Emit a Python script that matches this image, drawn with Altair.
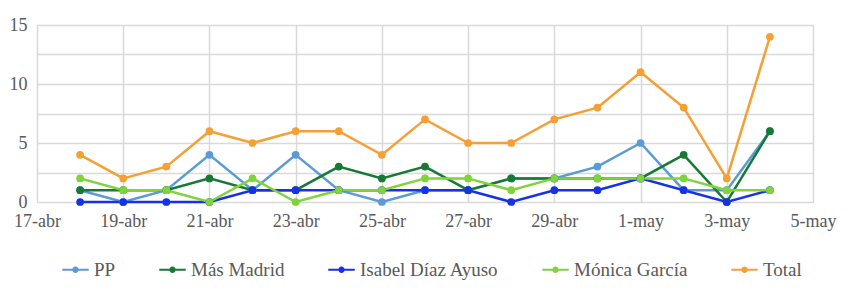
import altair as alt
import pandas as pd

fechas = ["2021-04-18", "2021-04-19", "2021-04-20", "2021-04-21", "2021-04-22", "2021-04-23",
          "2021-04-24", "2021-04-25", "2021-04-26", "2021-04-27", "2021-04-28", "2021-04-29",
          "2021-04-30", "2021-05-01", "2021-05-02", "2021-05-03", "2021-05-04"]
pp = [1, 0, 1, 4, 1, 4, 1, 0, 1, 1, 2, 2, 3, 5, 1, 1, 6]
mas_madrid = [1, 1, 1, 2, 1, 1, 3, 2, 3, 1, 2, 2, 2, 2, 4, 0, 6]
ayuso = [0, 0, 0, 0, 1, 1, 1, 1, 1, 1, 0, 1, 1, 2, 1, 0, 1]
monica = [2, 1, 1, 0, 2, 0, 1, 1, 2, 2, 1, 2, 2, 2, 2, 1, 1]
total = [4, 2, 3, 6, 5, 6, 6, 4, 7, 5, 5, 7, 8, 11, 8, 2, 14]

series = ["PP", "Más Madrid", "Isabel Díaz Ayuso", "Mónica García", "Total"]
colores = ["#5B9BD5", "#167A35", "#1631E6", "#7ED43A", "#F5A035"]
tick_fechas = ["2021-04-17", "2021-04-19", "2021-04-21", "2021-04-23", "2021-04-25",
               "2021-04-27", "2021-04-29", "2021-05-01", "2021-05-03", "2021-05-05"]
y_ticks = [0, 2.5, 5, 7.5, 10, 12.5, 15]

rows = []
for name, vals in zip(series, [pp, mas_madrid, ayuso, monica, total]):
    for f, v in zip(fechas, vals):
        rows.append({"fecha": f, "serie": name, "valor": v})
df = pd.DataFrame(rows)

tick_ms = [int(pd.Timestamp(t, tz="UTC").timestamp() * 1000) for t in tick_fechas]

FONT = "Liberation Serif"
GRAY = "#595959"
GRID = "#D9D9D9"

x_enc = alt.X(
    "fecha:T",
    scale=alt.Scale(type="utc", domain=[tick_ms[0], tick_ms[-1]]),
    axis=alt.Axis(
        values=tick_ms,
        labelExpr="utcdate(datum.value) + '-' + (utcmonth(datum.value) == 3 ? 'abr' : 'may')",
        title=None, grid=True, gridColor=GRID, gridWidth=1.5,
        domain=False, ticks=False, labelPadding=10,
        labelFont=FONT, labelFontSize=18, labelColor=GRAY,
        labelOverlap=False, labelBound=False, labelFlush=False,
    ),
)
y_enc = alt.Y(
    "valor:Q",
    scale=alt.Scale(domain=[0, 15], nice=False),
    axis=alt.Axis(
        values=y_ticks,
        labelExpr="datum.value % 5 == 0 ? datum.label : ''",
        title=None, grid=True, gridColor=GRID, gridWidth=1.5,
        domain=False, ticks=False, labelPadding=10,
        labelFont=FONT, labelFontSize=18, labelColor=GRAY,
    ),
)
color_scale = alt.Scale(domain=series, range=colores)

legend_path = ("M -1 -0.07 L 1 -0.07 L 1 0.07 L -1 0.07 Z "
               "M 0.24 0 A 0.24 0.24 0 1 1 -0.24 0 A 0.24 0.24 0 1 1 0.24 0 Z")

legend = alt.Legend(
    title=None, orient="none", direction="horizontal",
    legendX=25, legendY=231,
    symbolType=legend_path, symbolSize=700, symbolStrokeWidth=0,
    labelFont=FONT, labelFontSize=19, labelColor=GRAY,
    columnPadding=43, labelOffset=5, labelLimit=300,
)

lines = alt.Chart(df).mark_line(strokeWidth=2.5).encode(
    x=x_enc, y=y_enc,
    color=alt.Color("serie:N", scale=color_scale, sort=series, legend=legend),
    order=alt.Order("fecha:T"),
)
points = alt.Chart(df).mark_circle(size=60, opacity=1).encode(
    x=x_enc, y=y_enc,
    color=alt.Color("serie:N", scale=color_scale, sort=series, legend=legend),
)

chart = (lines + points).properties(
    width=776, height=177,
    autosize=alt.AutoSizeParams(type="none"),
    padding={"left": 29, "top": 17, "right": 32, "bottom": 83},
).configure_view(stroke=None).configure(background="white", font=FONT)

chart.save("out.html", embed_options={"renderer": "svg", "actions": False})
